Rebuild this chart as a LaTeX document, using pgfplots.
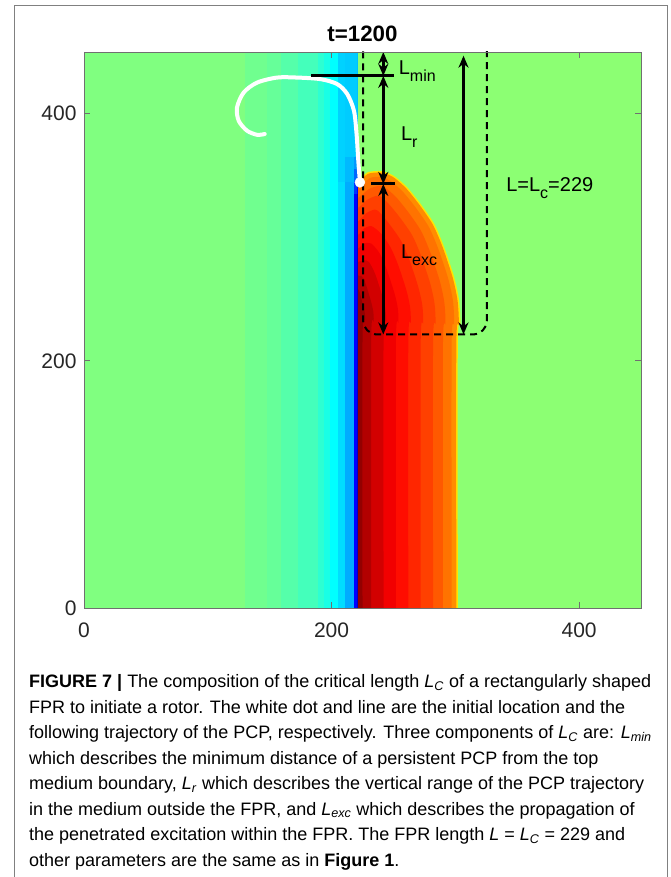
\documentclass[border=0pt]{standalone}
\usepackage{fontspec}
\setmainfont{Liberation Sans}
\usepackage{pgfplots}
\pgfplotsset{compat=1.18}
\usetikzlibrary{arrows.meta}

\definecolor{bgL}{rgb}{0.5,1,0.5}
\definecolor{bgR}{rgb}{0.55,1,0.45}
\definecolor{e0}{rgb}{1,0.9,0}
\definecolor{e1}{rgb}{1,0.55,0}
\definecolor{e2}{rgb}{1,0.45,0}
\definecolor{e3}{rgb}{1,0.35,0}
\definecolor{e4}{rgb}{1,0.25,0}
\definecolor{e5}{rgb}{1,0.15,0}
\definecolor{e6}{rgb}{1,0.05,0}
\definecolor{e7}{rgb}{0.95,0,0}
\definecolor{e8}{rgb}{0.825,0,0}
\definecolor{e9}{rgb}{0.7,0,0}
\definecolor{e10}{rgb}{0.575,0,0}
\definecolor{c1}{rgb}{0.44,1,0.56}
\definecolor{c2}{rgb}{0.40,1,0.60}
\definecolor{c3}{rgb}{0.335,1,0.665}
\definecolor{c4}{rgb}{0.265,1,0.735}
\definecolor{c5}{rgb}{0.175,1,0.825}
\definecolor{c6}{rgb}{0.10,1,0.90}
\definecolor{c7}{rgb}{0,1,1}
\definecolor{c8}{rgb}{0,0.865,1}
\definecolor{c8t}{rgb}{0,0.825,1}
\definecolor{c9}{rgb}{0,0.675,1}
\definecolor{c9m}{rgb}{0,0.725,1}
\definecolor{sky}{rgb}{0,0.8,1}
\definecolor{bA}{rgb}{0,0,1}
\definecolor{bB}{rgb}{0,0.2,1}
\definecolor{bC}{rgb}{0,0.4,1}
\definecolor{bD}{rgb}{0,0.6,1}
\definecolor{dA}{rgb}{0,0,0.75}
\definecolor{dC}{rgb}{0,0.25,1}
\definecolor{dD}{rgb}{0,0.5,1}
\definecolor{dE}{rgb}{0,0.75,1}
\definecolor{tickgray}{HTML}{262626}
\definecolor{axgray}{HTML}{707070}

\pgfplotsset{band/.style={draw=none, fill=#1, mark=none, forget plot},
  sband/.style={draw=none, fill=#1, mark=none, forget plot, smooth, tension=0.45},
  dbl/.style={black, line width=2.5pt, mark=none, forget plot,
  arrows={Stealth[length=12pt,width=10pt]-Stealth[length=12pt,width=10pt]}}}
\newcommand\lab{\fontsize{20}{24}\selectfont}
\newcommand\sub[1]{\raisebox{-7pt}{\fontsize{16}{18}\selectfont #1}}

\begin{document}
\begin{tikzpicture}[x=1pt,y=1pt]
\path[use as bounding box] (0,0) rectangle (670,877);
\draw[gray, line width=1pt] (14,0) -- (14,871) -- (667,871) -- (667,0);

\begin{axis}[
  at={(84pt,269pt)}, anchor=south west,
  scale only axis, width=557pt, height=556pt,
  xmin=0, xmax=450, ymin=0, ymax=450,
  axis background/.style={fill=bgL},
  axis on top,
  xtick={0,200,400}, ytick={0,200,400},
  xticklabels={0,200,400}, yticklabels={0,200,400},
  tick align=inside, major tick length=6pt,
  xtick pos=both, ytick pos=both,
  tick style={draw=axgray, line width=0.9pt},
  axis line style={draw=axgray, line width=0.9pt},
  ticklabel style={font=\fontsize{21}{24}\selectfont, text=tickgray},
  xticklabel style={yshift=-11pt},
  yticklabel style={xshift=-4pt},
]
% right background
\addplot[band=bgR] coordinates {(221.5,0) (450,0) (450,450) (221.5,450)};
% excitation bands
\addplot[sband=e0] coordinates {(214,-20) (214,346) (221.5,346) (229,352.6) (240,353.6) (250,350) (261,340.6) (272,327) (283,310.8) (291,292) (299,268) (303,249) (304,230) (302,212) (302,0) (302,-20)};
\addplot[sband=e1] coordinates {(214,-20) (214,344.8) (221.5,344.8) (229.5,351.4) (239.8,352.4) (249.4,349) (260.1,339.8) (271,326.3) (281.9,310.2) (289.9,291.6) (297.8,267.7) (301.8,248.8) (302.8,230) (300.8,212.1) (300.8,0) (300.8,-20)};
\addplot[sband=e2] coordinates {(214,-20) (214,340) (221.5,340) (231,348) (239.4,348.7) (247.5,345.7) (257.4,337.1) (268,324) (278.6,308.4) (286.4,290.2) (294.2,266.7) (298.1,248.4) (299,230.2) (297,212.3) (297,0) (297,-20)};
\addplot[sband=e3] coordinates {(214,-20) (214,332) (221.5,332) (230,339) (238.4,341.7) (244,339.7) (252.4,332.2) (262.4,319.8) (272.4,305) (279.8,287.7) (287.4,264.8) (291.1,247.4) (292,230.4) (290,212.6) (290,0) (290,-20)};
\addplot[sband=e4] coordinates {(214,-20) (214,324) (221.5,324) (229,330.5) (236,333.5) (240,332.8) (246.6,326.6) (256,315) (265.4,301.2) (272.4,284.8) (279.7,262.7) (283.2,246.4) (284,230.6) (282,213) (282,0) (282,-20)};
\addplot[sband=e5] coordinates {(214,-20) (214,313) (221.5,313) (228,319.5) (235,322.5) (239.4,319.6) (248,309) (256.6,296.4) (263.1,281.2) (270,260) (273.3,245.1) (274,230.9) (272,213.5) (272,0) (272,-20)};
\addplot[sband=e6] coordinates {(214,-20) (214,302) (221.5,302) (226,307) (232.2,309) (240,303) (247.8,291.6) (253.8,277.6) (260.4,257.4) (263.4,243.8) (264,231.2) (262,214) (262,0) (262,-20)};
\addplot[sband=e7] coordinates {(214,-20) (214,291) (221.5,291) (226,295) (232,295) (239,286.8) (244.5,274) (250.8,254.8) (253.5,242.5) (254,231.5) (252,214.5) (252,0) (252,-20)};
\addplot[sband=e8] coordinates {(214,-20) (214,280) (221.5,280) (226,281.5) (230.2,280) (235.2,270.4) (241.1,252.1) (243.6,241.2) (244,231.8) (242,215) (242,0) (242,-20)};
\addplot[sband=e9] coordinates {(214,-20) (214,269) (221.5,269) (225.9,266.8) (231.5,249.5) (233.7,239.9) (234,232.1) (232,215.5) (232,0) (232,-20)};
\addplot[sband=e10] coordinates {(214,-20) (214,258) (221.5,258) (224.7,247.6) (226.8,239) (227,232.3) (225,215.9) (225,0) (225,-20)};
% left gradient stripes
\addplot[band=c1] coordinates {(130,0) (148,0) (148,450) (130,450)};
\addplot[band=c2] coordinates {(148,0) (159,0) (159,450) (148,450)};
\addplot[band=c3] coordinates {(159,0) (173,0) (173,450) (159,450)};
\addplot[band=c4] coordinates {(173,0) (189,0) (189,450) (173,450)};
\addplot[band=c5] coordinates {(189,0) (194,0) (194,450) (189,450)};
\addplot[band=c6] coordinates {(194,0) (199,0) (199,450) (194,450)};
\addplot[band=c7] coordinates {(199,0) (205,0) (205,450) (199,450)};
\addplot[band=c8] coordinates {(205,0) (211,0) (211,345) (205,345)};
\addplot[band=c8t] coordinates {(205,345) (211,345) (211,450) (205,450)};
\addplot[band=c9] coordinates {(211,0) (218,0) (218,345) (211,345)};
\addplot[band=c9m] coordinates {(211,345) (218,345) (218,365) (211,365)};
\addplot[band=sky] coordinates {(211,365) (218,365) (218,450) (211,450)};
\addplot[band=bA] coordinates {(218,0) (220.5,0) (220.5,335) (218,335)};
\addplot[band=bB] coordinates {(218,335) (220.5,335) (220.5,345) (218,345)};
\addplot[band=bC] coordinates {(218,345) (220.5,345) (220.5,355) (218,355)};
\addplot[band=bD] coordinates {(218,355) (220.5,355) (220.5,365) (218,365)};
\addplot[band=sky] coordinates {(218,365) (220.5,365) (220.5,450) (218,450)};
\addplot[band=dA] coordinates {(220.5,0) (221.5,0) (221.5,335) (220.5,335)};
\addplot[band=bA] coordinates {(220.5,335) (221.5,335) (221.5,345) (220.5,345)};
\addplot[band=dC] coordinates {(220.5,345) (221.5,345) (221.5,355) (220.5,355)};
\addplot[band=dD] coordinates {(220.5,355) (221.5,355) (221.5,365) (220.5,365)};
\addplot[band=dE] coordinates {(220.5,365) (221.5,365) (221.5,450) (220.5,450)};
% FPR dashed outline
\addplot[black, line width=2pt, dash pattern=on 7pt off 5pt, rounded corners=14pt, mark=none, forget plot]
  coordinates {(225.5,470) (225.5,221.4) (325.5,221.4) (325.5,470)};
% PCP trajectory
\addplot[white, line width=4pt, smooth, line cap=round, mark=none, forget plot] coordinates {
 (222.9,344.5) (221.6,362) (220.2,383.6) (218.1,402.4) (212.7,415.9) (204.6,424) (191.1,428)
 (172.2,429.3) (156,429.3) (139.8,425.2) (129,417.2) (123.6,405) (125,394.3) (131.7,386.3)
 (139.8,383) (146,383.6)};
\addplot[only marks, mark=*, mark size=5pt, white, forget plot] coordinates {(222.9,344.5)};
% bars
\addplot[black, line width=3pt, mark=none, forget plot] coordinates {(183.5,430.7) (250.5,430.7)};
\addplot[black, line width=3pt, mark=none, forget plot] coordinates {(232,343.2) (251,343.2)};
% arrows
\addplot[dbl] coordinates {(241.8,450) (241.8,430.7)};
\addplot[dbl] coordinates {(241.8,430.7) (241.8,343.2)};
\addplot[dbl] coordinates {(241.8,343.2) (241.8,221.4)};
\addplot[dbl] coordinates {(306.6,221.4) (306.6,447)};
% labels
\node[anchor=base west, inner sep=0pt] at (axis cs:254.2,431.5) {\lab L\sub{min}};
\node[anchor=base west, inner sep=0pt] at (axis cs:256,378) {\lab L\sub{r}};
\node[anchor=base west, inner sep=0pt] at (axis cs:256,282.8) {\lab L\sub{exc}};
\node[anchor=base west, inner sep=0pt] at (axis cs:341,337.2) {\lab L=L\sub{c}=229};
\end{axis}

\node[anchor=base, inner sep=0pt, font=\fontsize{22.3}{26}\selectfont\bfseries] at (362.5,835.3) {t=1200};

\node[anchor=north west, inner sep=0pt, align=left, font=\fontsize{18}{25.5}\selectfont] at (29,202.7) {%
\textbf{FIGURE 7 |} The composition of the critical length \textit{L}\textsubscript{\textit{C}} of a rectangularly shaped\\
FPR to initiate a rotor. The white dot and line are the initial location and the\\
following trajectory of the PCP, respectively. Three components of \textit{L}\textsubscript{\textit{C}} are: \textit{L}\textsubscript{\textit{min}}\\
which describes the minimum distance of a persistent PCP from the top\\
medium boundary, \textit{L}\textsubscript{\textit{r}} which describes the vertical range of the PCP trajectory\\
in the medium outside the FPR, and \textit{L}\textsubscript{\textit{exc}} which describes the propagation of\\
the penetrated excitation within the FPR. The FPR length \textit{L} = \textit{L}\textsubscript{\textit{C}} = 229 and\\
other parameters are the same as in \textbf{Figure 1}.};
\end{tikzpicture}
\end{document}
